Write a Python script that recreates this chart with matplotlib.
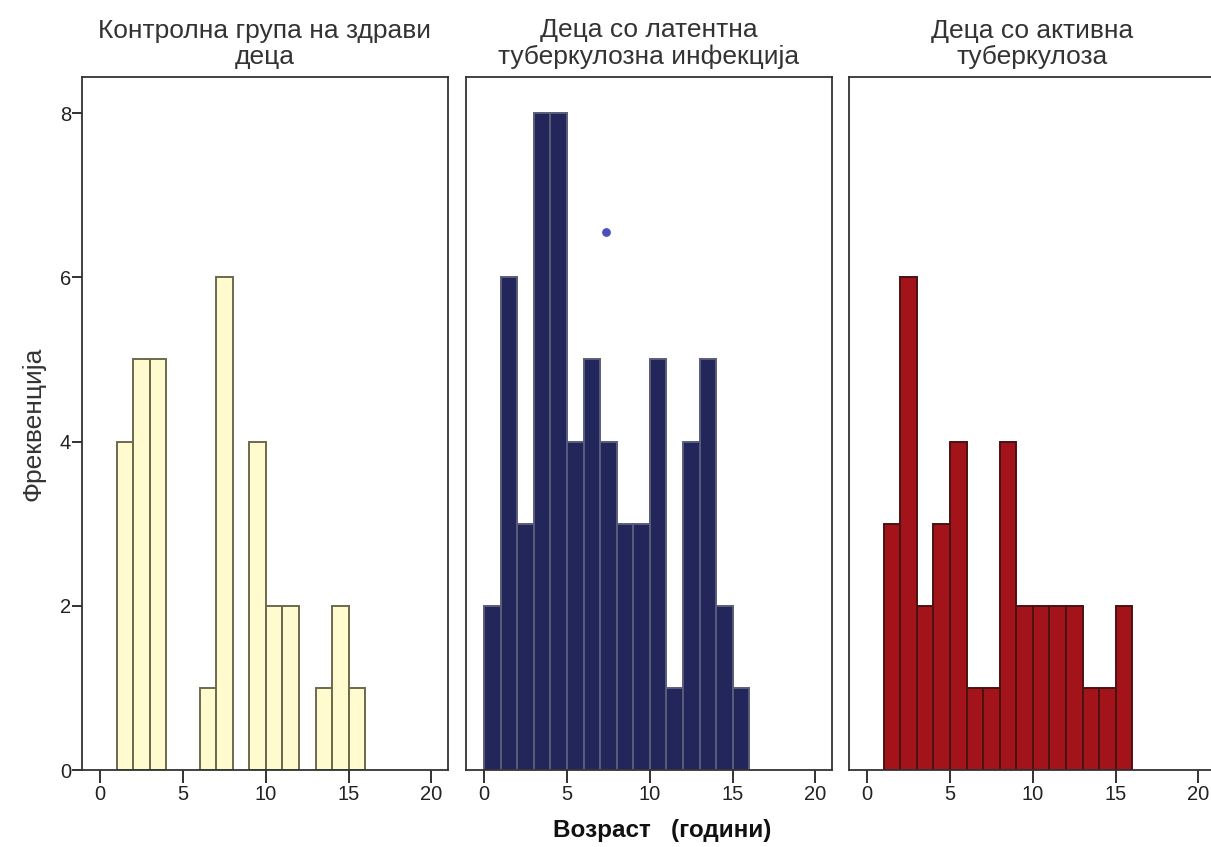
import matplotlib
matplotlib.use("Agg")
import matplotlib.pyplot as plt
from matplotlib import font_manager

# age bins (left edge, years) and counts per group
age_bins = list(range(0, 16))
control_counts = [0, 4, 5, 5, 0, 0, 1, 6, 0, 4, 2, 2, 0, 1, 2, 1]
latent_counts = [2, 6, 3, 8, 8, 4, 5, 4, 3, 3, 5, 1, 4, 5, 2, 1]
active_counts = [0, 3, 6, 2, 3, 4, 1, 1, 4, 2, 2, 2, 2, 1, 1, 2]

group_titles = [
    "Контролна група на здрави\nдеца",
    "Деца со латентна\nтуберкулозна инфекција",
    "Деца со активна\nтуберкулоза",
]
x_ticks = [0, 5, 10, 15, 20]
y_ticks = [0, 2, 4, 6, 8]

# stray point on the middle panel
dot_x = [7.35]
dot_y = [6.55]

installed = {f.name for f in font_manager.fontManager.ttflist}
family = "Liberation Sans" if "Liberation Sans" in installed else "DejaVu Sans"
plt.rcParams["font.family"] = [family, "DejaVu Sans"]

styles = [
    dict(color="#fffbcf", edgecolor="#6b6a4e"),
    dict(color="#22265a", edgecolor="#5a5d78"),
    dict(color="#a3141a", edgecolor="#4a1212"),
]
series = [control_counts, latent_counts, active_counts]

fig = plt.figure(figsize=(12.11, 8.47), dpi=100)
W, H = 1211, 847
lefts = [82, 466, 849]
for i, (counts, title, st) in enumerate(zip(series, group_titles, styles)):
    ax = fig.add_axes([lefts[i] / W, 77 / H, 366 / W, 693 / H])
    xs = [b for b, c in zip(age_bins, counts) if c > 0]
    hs = [c for c in counts if c > 0]
    ax.bar(xs, hs, width=1.0, align="edge", linewidth=1.4, **st)
    ax.set_xlim(-1.1, 21.0)
    ax.set_ylim(0, 8.44)
    ax.set_xticks(x_ticks)
    ax.tick_params(axis="x", direction="out", length=9, width=1.3,
                   colors="#222222", labelsize=14.5, pad=2)
    if i == 0:
        ax.set_yticks(y_ticks)
        ax.tick_params(axis="y", direction="out", length=7, width=1.3,
                       colors="#222222", labelsize=14.5, pad=1)
        ax.set_ylabel("Фреквенција", fontsize=19, labelpad=10, color="#333333")
    else:
        ax.set_yticks([])
    if i == 1:
        ax.scatter(dot_x, dot_y, s=28, color="#4a4fc0", zorder=5)
    for sp in ax.spines.values():
        sp.set_linewidth(1.3)
        sp.set_color("#333333")
    ax.set_title(title, fontsize=19, color="#333333", pad=9, linespacing=1.15)

fig.text(662 / W, 1 - 830 / H, "Возраст   (години)", ha="center", va="center",
         fontsize=17.5, fontweight="bold", color="#111111")

fig.savefig("out.png", dpi=100)
